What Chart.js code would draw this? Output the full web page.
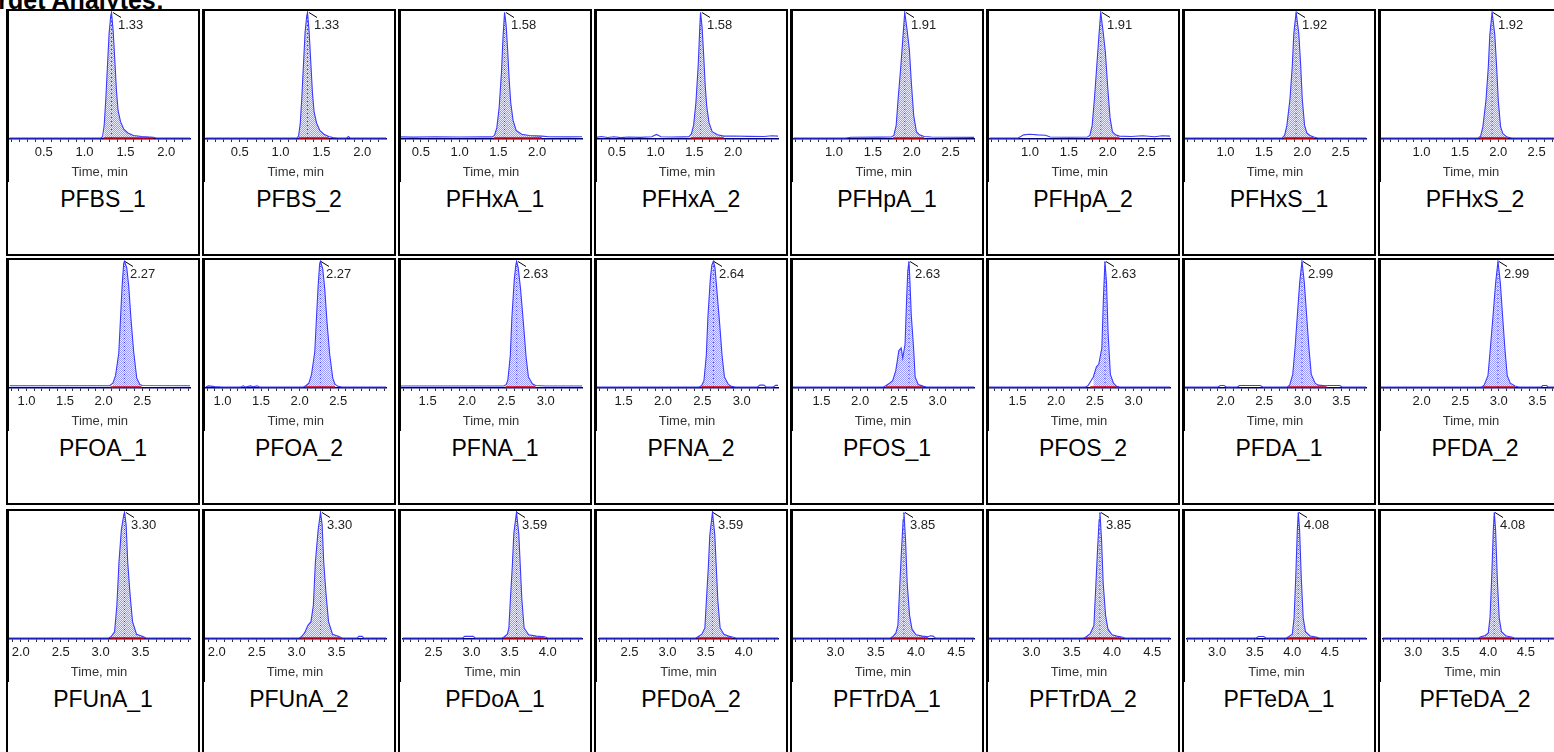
<!DOCTYPE html>
<html><head><meta charset="utf-8">
<script src="https://cdn.jsdelivr.net/npm/chart.js@4.4.1/dist/chart.umd.min.js"></script>
<style>
html,body{margin:0;padding:0;background:#fff;overflow:hidden;width:1554px;height:752px;position:relative;font-family:Arial,"Liberation Sans",sans-serif}
.title{position:absolute;left:-29px;top:-12px;font-weight:bold;font-size:25px;line-height:25px;white-space:nowrap;color:#000}
.cell{position:absolute;width:194px;height:247px;border:2px solid #000;box-sizing:border-box;background:#fff}
.cell canvas{position:absolute;left:0;top:0}
.frame{position:absolute;left:0;top:0;width:1px;height:171px;background:#000}
.name{position:absolute;left:0;width:190px;top:175px;text-align:center;font-size:23px;line-height:26px;color:#000;white-space:nowrap}
</style></head><body>
<div class="title">Target Analytes:</div>
<div id="grid"></div>
<script>
// ---------- data ----------
const names = ['PFBS_1','PFBS_2','PFHxA_1','PFHxA_2','PFHpA_1','PFHpA_2','PFHxS_1','PFHxS_2',
               'PFOA_1','PFOA_2','PFNA_1','PFNA_2','PFOS_1','PFOS_2','PFDA_1','PFDA_2',
               'PFUnA_1','PFUnA_2','PFDoA_1','PFDoA_2','PFTrDA_1','PFTrDA_2','PFTeDA_1','PFTeDA_2'];
const retentionTimes = [1.33,1.33,1.58,1.58,1.91,1.91,1.92,1.92,2.27,2.27,2.63,2.64,2.63,2.63,2.99,2.99,3.30,3.30,3.59,3.59,3.85,3.85,4.08,4.08];
const windowStart = [0.08,0.08,0.23,0.23,0.48,0.48,0.46,0.46,0.78,0.78,1.15,1.15,1.12,1.12,1.46,1.46,1.84,1.84,2.10,2.10,2.46,2.46,2.60,2.60];
const windowEnd   = [2.29,2.29,2.58,2.58,2.80,2.80,2.83,2.83,3.12,3.12,3.46,3.46,3.47,3.47,3.82,3.82,4.12,4.12,4.45,4.45,4.72,4.72,4.98,4.98];
const integStart  = [1.23,1.22,1.44,1.45,1.76,1.77,1.76,1.76,2.09,2.07,2.49,2.49,2.33,2.44,2.81,2.78,3.12,3.05,3.42,3.39,3.70,3.67,3.94,3.89];
const integEnd    = [1.84,1.59,2.06,1.88,2.16,2.15,2.15,2.12,2.49,2.46,2.87,2.87,2.82,2.81,3.31,3.21,3.55,3.56,3.96,3.85,4.15,4.12,4.33,4.32];
const tickLabels = [[0.5,1.0,1.5,2.0],[0.5,1.0,1.5,2.0],[0.5,1.0,1.5,2.0],[0.5,1.0,1.5,2.0],
                    [1.0,1.5,2.0,2.5],[1.0,1.5,2.0,2.5],[1.0,1.5,2.0,2.5],[1.0,1.5,2.0,2.5],
                    [1.0,1.5,2.0,2.5],[1.0,1.5,2.0,2.5],[1.5,2.0,2.5,3.0],[1.5,2.0,2.5,3.0],
                    [1.5,2.0,2.5,3.0],[1.5,2.0,2.5,3.0],[2.0,2.5,3.0,3.5],[2.0,2.5,3.0,3.5],
                    [2.0,2.5,3.0,3.5],[2.0,2.5,3.0,3.5],[2.5,3.0,3.5,4.0],[2.5,3.0,3.5,4.0],
                    [3.0,3.5,4.0,4.5],[3.0,3.5,4.0,4.5],[3.0,3.5,4.0,4.5],[3.0,3.5,4.0,4.5]];

// traces: [time (min), intensity (% of apex)]
const trace_PFBS_1 = [[0.08,0],[1.20,0],[1.22,1],[1.24,10],[1.26,31],[1.28,57],[1.30,83],[1.32,97],[1.33,100],[1.35,85],[1.37,62],[1.39,38],[1.41,22],[1.44,13],[1.48,7],[1.53,4],[1.60,2],[1.70,1.2],[1.84,0.6],[1.88,0],[2.29,0]];
const trace_PFBS_2 = [[0.08,0],[1.20,0],[1.22,1.5],[1.24,11],[1.26,32],[1.28,58],[1.30,84],[1.32,97],[1.33,100],[1.35,84],[1.37,60],[1.39,36],[1.41,21],[1.44,12],[1.48,6],[1.53,3],[1.59,1.2],[1.64,0.3],[1.70,0],[1.81,0],[1.83,1.2],[1.85,0],[2.29,0]];
const trace_PFHxA_1 = [[0.23,0.9],[0.40,0.7],[0.70,1.0],[1.00,0.8],[1.30,0.9],[1.42,0.9],[1.45,2],[1.48,8],[1.51,24],[1.54,52],[1.56,80],[1.58,100],[1.60,90],[1.62,70],[1.64,46],[1.66,28],[1.69,14],[1.73,6],[1.80,3],[1.90,2],[2.06,1.5],[2.15,1.0],[2.40,0.9],[2.58,1.0]];
const trace_PFHxA_2 = [[0.23,0.5],[0.30,1.2],[0.38,0.4],[0.46,1.0],[0.55,0.3],[0.65,0.8],[0.80,0.5],[0.95,1.0],[1.01,2.8],[1.07,1.0],[1.20,0.8],[1.35,0.9],[1.43,1.0],[1.46,3],[1.49,10],[1.52,28],[1.55,58],[1.57,88],[1.58,100],[1.60,88],[1.62,66],[1.64,42],[1.66,25],[1.69,12],[1.73,5],[1.80,2.5],[1.88,1.5],[2.00,1.6],[2.20,1.3],[2.40,1.2],[2.50,1.8],[2.58,1.5]];
const trace_PFHpA_1 = [[0.48,0],[1.15,0],[1.22,0.6],[1.60,0.7],[1.74,0.8],[1.77,2],[1.80,10],[1.825,31],[1.86,57],[1.89,83],[1.91,100],[1.94,86],[1.97,70],[1.995,44],[2.025,18],[2.06,5],[2.10,2.5],[2.16,1.2],[2.25,0.8],[2.50,0.6],[2.80,0.5]];
const trace_PFHpA_2 = [[0.48,0],[0.85,0],[0.92,2.5],[1.00,3],[1.10,2.5],[1.20,2.2],[1.26,0.8],[1.50,0.6],[1.74,0.8],[1.77,2],[1.80,10],[1.83,32],[1.86,58],[1.89,84],[1.91,100],[1.94,85],[1.97,68],[2.00,40],[2.03,16],[2.06,5],[2.10,2.5],[2.15,1.5],[2.30,1.2],[2.45,1.8],[2.60,1.0],[2.70,1.8],[2.80,1.5]];
const trace_PFHxS_1 = [[0.46,0],[1.74,0],[1.77,2],[1.80,10],[1.84,31],[1.87,57],[1.89,83],[1.92,100],[1.955,83],[1.98,57],[2.00,31],[2.03,10],[2.06,4],[2.10,2],[2.15,0.8],[2.20,0],[2.83,0]];
const trace_PFHxS_2 = [[0.46,0],[1.74,0],[1.77,1.5],[1.80,9],[1.84,30],[1.87,56],[1.89,82],[1.92,100],[1.955,82],[1.98,55],[2.00,30],[2.03,9],[2.06,3.5],[2.10,1.5],[2.13,0.5],[2.18,0],[2.83,0]];
const trace_PFOA_1 = [[0.78,1.0],[1.50,1.0],[2.08,1.0],[2.12,3],[2.155,9],[2.197,27],[2.219,54],[2.24,80],[2.26,98],[2.27,100],[2.30,95],[2.326,80],[2.355,54],[2.39,28],[2.43,7],[2.47,2],[2.50,1.2],[3.12,1.0]];
const trace_PFOA_2 = [[0.78,0],[0.82,0.9],[0.90,0.3],[1.00,0],[1.24,0],[1.27,0.9],[1.30,0],[1.36,0.9],[1.40,0.2],[1.45,0.9],[1.48,0],[2.05,0],[2.08,1],[2.12,3],[2.155,10],[2.197,28],[2.219,55],[2.24,80],[2.26,98],[2.27,100],[2.30,94],[2.326,78],[2.355,52],[2.39,26],[2.43,7],[2.46,2],[2.50,0.5],[2.55,0],[3.12,0]];
const trace_PFNA_1 = [[1.15,0.8],[2.00,0.8],[2.47,0.8],[2.50,2],[2.52,6],[2.55,25],[2.57,55],[2.60,85],[2.62,97],[2.63,100],[2.65,95],[2.68,78],[2.72,48],[2.75,24],[2.78,8],[2.83,2.5],[2.87,1.2],[3.00,0.8],[3.46,0.8]];
const trace_PFNA_2 = [[1.15,0],[2.46,0],[2.49,1],[2.52,5],[2.55,25],[2.57,55],[2.60,85],[2.62,97],[2.64,100],[2.66,95],[2.68,80],[2.72,50],[2.75,25],[2.78,8],[2.83,2],[2.87,0.5],[2.92,0],[3.20,0],[3.23,1.5],[3.28,1.5],[3.31,0],[3.40,0],[3.43,1.3],[3.46,1.3]];
const trace_PFOS_1 = [[1.12,0],[2.30,0],[2.33,1],[2.38,3],[2.42,5],[2.46,13],[2.50,29],[2.53,31],[2.55,23],[2.58,34],[2.60,70],[2.615,92],[2.63,100],[2.64,88],[2.66,57],[2.69,31],[2.71,8],[2.75,2],[2.82,0.5],[2.86,0],[3.47,0]];
const trace_PFOS_2 = [[1.12,0],[2.38,0],[2.41,1],[2.48,8],[2.52,16],[2.55,18],[2.59,31],[2.61,70],[2.63,100],[2.65,83],[2.67,44],[2.70,10],[2.74,3],[2.78,0.5],[2.82,0],[3.47,0]];
const trace_PFDA_1 = [[1.46,0],[1.90,0],[1.93,1.2],[1.98,1.2],[2.01,0],[2.15,0],[2.18,1.2],[2.45,1.2],[2.48,0],[2.80,0],[2.83,1.5],[2.87,10],[2.90,31],[2.93,57],[2.96,83],[2.99,100],[3.02,83],[3.05,57],[3.08,31],[3.11,10],[3.16,3],[3.20,1.5],[3.30,1],[3.33,1.2],[3.48,1.2],[3.51,0],[3.82,0]];
const trace_PFDA_2 = [[1.46,0],[2.78,0],[2.81,1.5],[2.86,9],[2.89,30],[2.925,56],[2.96,83],[2.99,100],[3.02,83],[3.05,56],[3.08,30],[3.11,9],[3.15,3],[3.21,0.8],[3.26,0],[3.55,0],[3.57,1.2],[3.62,1.2],[3.64,0],[3.82,0]];
const trace_PFUnA_1 = [[1.84,0],[3.10,0],[3.13,1],[3.175,5],[3.204,26],[3.23,60],[3.26,86],[3.29,98],[3.30,100],[3.32,90],[3.34,60],[3.37,34],[3.40,13],[3.45,3],[3.53,1.2],[3.57,0],[4.12,0]];
const trace_PFUnA_2 = [[1.84,0],[3.03,0],[3.06,1],[3.10,4],[3.14,10],[3.18,13],[3.21,26],[3.235,60],[3.27,86],[3.30,100],[3.32,90],[3.34,60],[3.37,34],[3.40,13],[3.45,3],[3.53,1.2],[3.57,0],[3.76,0],[3.78,1.3],[3.82,1.3],[3.84,0],[4.12,0]];
const trace_PFDoA_1 = [[2.10,0],[2.88,0],[2.91,1.3],[3.02,1.3],[3.05,0],[3.40,0],[3.43,1],[3.47,3],[3.49,8],[3.51,31],[3.535,57],[3.555,83],[3.59,100],[3.62,83],[3.64,57],[3.66,31],[3.69,8],[3.75,2.5],[3.85,1.5],[3.96,1],[4.00,0],[4.45,0]];
const trace_PFDoA_2 = [[2.10,0],[3.37,0],[3.40,1],[3.45,3],[3.49,8],[3.51,30],[3.535,56],[3.555,82],[3.59,100],[3.62,82],[3.64,56],[3.66,30],[3.69,8],[3.74,3],[3.80,1.5],[3.85,0.8],[3.90,0],[4.45,0]];
const trace_PFTrDA_1 = [[2.46,0],[3.68,0],[3.71,1],[3.75,4],[3.775,10],[3.80,44],[3.82,70],[3.84,94],[3.85,100],[3.87,78],[3.89,44],[3.92,18],[3.95,7],[4.00,2.5],[4.08,1.5],[4.15,1],[4.18,1.8],[4.21,1.5],[4.24,0],[4.72,0]];
const trace_PFTrDA_2 = [[2.46,0],[3.65,0],[3.68,1],[3.73,3.5],[3.775,10],[3.80,43],[3.82,70],[3.84,94],[3.85,100],[3.87,78],[3.89,44],[3.92,18],[3.95,7],[4.00,2.5],[4.06,1.5],[4.12,0.8],[4.16,0],[4.72,0]];
const trace_PFTeDA_1 = [[2.60,0],[3.52,0],[3.55,1.2],[3.62,1.2],[3.65,0],[3.92,0],[3.95,1],[4.00,3],[4.024,16],[4.045,47],[4.067,86],[4.08,100],[4.097,86],[4.12,47],[4.145,16],[4.175,5],[4.24,1.5],[4.33,0.6],[4.36,0],[4.98,0]];
const trace_PFTeDA_2 = [[2.60,0],[3.87,0],[3.90,1],[3.96,2],[4.00,4],[4.024,17],[4.045,48],[4.067,86],[4.08,100],[4.097,86],[4.12,47],[4.145,16],[4.175,5],[4.24,1.5],[4.32,0.6],[4.35,0],[4.98,0]];

const traces = [trace_PFBS_1,trace_PFBS_2,trace_PFHxA_1,trace_PFHxA_2,trace_PFHpA_1,trace_PFHpA_2,trace_PFHxS_1,trace_PFHxS_2,
  trace_PFOA_1,trace_PFOA_2,trace_PFNA_1,trace_PFNA_2,trace_PFOS_1,trace_PFOS_2,trace_PFDA_1,trace_PFDA_2,
  trace_PFUnA_1,trace_PFUnA_2,trace_PFDoA_1,trace_PFDoA_2,trace_PFTrDA_1,trace_PFTrDA_2,trace_PFTeDA_1,trace_PFTeDA_2];

// ---------- layout ----------
const COLS = 8, colLeft0 = 6, colPitch = 196;
const rowTops = [9, 258, 509];
const FONT = 'Arial, "Liberation Sans", sans-serif';
Chart.defaults.font.family = FONT;

const apexPlugin = {
  id: 'apexLabel',
  afterDatasetsDraw(chart, args, opts) {
    const xs = chart.scales.x, ys = chart.scales.y;
    const x = Math.round(xs.getPixelForValue(opts.rt));
    const y = Math.round(ys.getPixelForValue(opts.top));
    const c = chart.ctx;
    c.save();
    c.strokeStyle = '#000'; c.lineWidth = 1;
    c.beginPath(); c.moveTo(x + 1, y + 0.5); c.lineTo(x + 9, y + 5.5); c.stroke();
    c.fillStyle = '#222'; c.font = '13px ' + FONT; c.textBaseline = 'alphabetic'; c.textAlign = 'left';
    c.fillText(opts.rt.toFixed(2), x + 6, y + 17);
    c.restore();
  }
};

const grid = document.getElementById('grid');
names.forEach((name, i) => {
  const r = Math.floor(i / COLS), col = i % COLS;
  const cell = document.createElement('div');
  cell.className = 'cell';
  cell.style.left = (colLeft0 + col * colPitch) + 'px';
  cell.style.top = rowTops[r] + 'px';
  const cv = document.createElement('canvas');
  cv.width = 190; cv.height = 169;
  cv.style.width = '190px'; cv.style.height = '169px';
  cell.appendChild(cv);
  const fr = document.createElement('div'); fr.className = 'frame'; cell.appendChild(fr);
  const nm = document.createElement('div'); nm.className = 'name'; nm.textContent = name; cell.appendChild(nm);
  grid.appendChild(cell);

  const ctx = cv.getContext('2d');
  const pc = document.createElement('canvas'); pc.width = 2; pc.height = 2;
  const pctx = pc.getContext('2d');
  pctx.fillStyle = '#ececff'; pctx.fillRect(0, 0, 2, 2);
  pctx.fillStyle = '#9a9aff'; pctx.fillRect(0, 0, 1, 1); pctx.fillRect(1, 1, 1, 1);
  const pattern = ctx.createPattern(pc, 'repeat');

  const xmin = windowStart[i], xmax = windowEnd[i];
  const pts = traces[i].filter(p => p[0] >= xmin - 1e-9 && p[0] <= xmax + 1e-9).map(p => ({x: p[0], y: p[1]}));
  const area = pts.filter(p => p.x >= integStart[i] && p.x <= integEnd[i]);
  const rt = retentionTimes[i];
  const apex = pts.reduce((m, p) => p.y > m.y ? p : m, pts[0]);
  const labels = tickLabels[i];

  new Chart(ctx, {
    type: 'line',
    data: {
      datasets: [
        {data: [{x: integStart[i], y: 0}, {x: integEnd[i], y: 0}], borderColor: '#dd0000', borderWidth: 1.6, pointRadius: 0, fill: false, order: 2},
        {data: pts, borderColor: '#3a3aff', borderWidth: 1.1, pointRadius: 0, tension: 0, fill: false, order: 1},
        {data: [{x: apex.x, y: 0}, {x: apex.x, y: apex.y}], borderColor: '#3030ff', borderWidth: 1, borderDash: [1, 3], pointRadius: 0, fill: false, order: 3},
        {data: area, borderWidth: 0, borderColor: 'rgba(0,0,0,0)', backgroundColor: pattern, pointRadius: 0, tension: 0, fill: 'origin', order: 4}
      ]
    },
    options: {
      responsive: false, animation: false, devicePixelRatio: 1,
      layout: {padding: {left: 0, right: 8, top: 0, bottom: 0}},
      plugins: {legend: {display: false}, tooltip: {enabled: false}, apexLabel: {rt: rt, top: apex.y}},
      scales: {
        x: {
          type: 'linear', min: xmin, max: xmax,
          border: {display: true, color: '#000070', width: 1.5},
          grid: {display: true, drawOnChartArea: false, drawTicks: true, tickLength: 3, color: '#333', lineWidth: 1},
          afterBuildTicks: s => {
            const t = [];
            for (let k = Math.ceil(xmin * 10 - 1e-9); k <= Math.floor(xmax * 10 + 1e-9); k++) t.push({value: k / 10});
            s.ticks = t;
          },
          ticks: {
            autoSkip: false, maxRotation: 0, minRotation: 0, padding: 3, color: '#1a1a1a',
            font: {size: 13},
            callback: v => labels.some(t => Math.abs(t - v) < 1e-6) ? v.toFixed(1) : ''
          },
          title: {display: true, text: 'Time, min', color: '#333', font: {size: 13}, padding: {top: 0, bottom: 0}},
          afterFit: s => { s.height = 41; }
        },
        y: {display: false, min: -0.8, max: 101}
      }
    },
    plugins: [apexPlugin]
  });
});
</script>
</body></html>
